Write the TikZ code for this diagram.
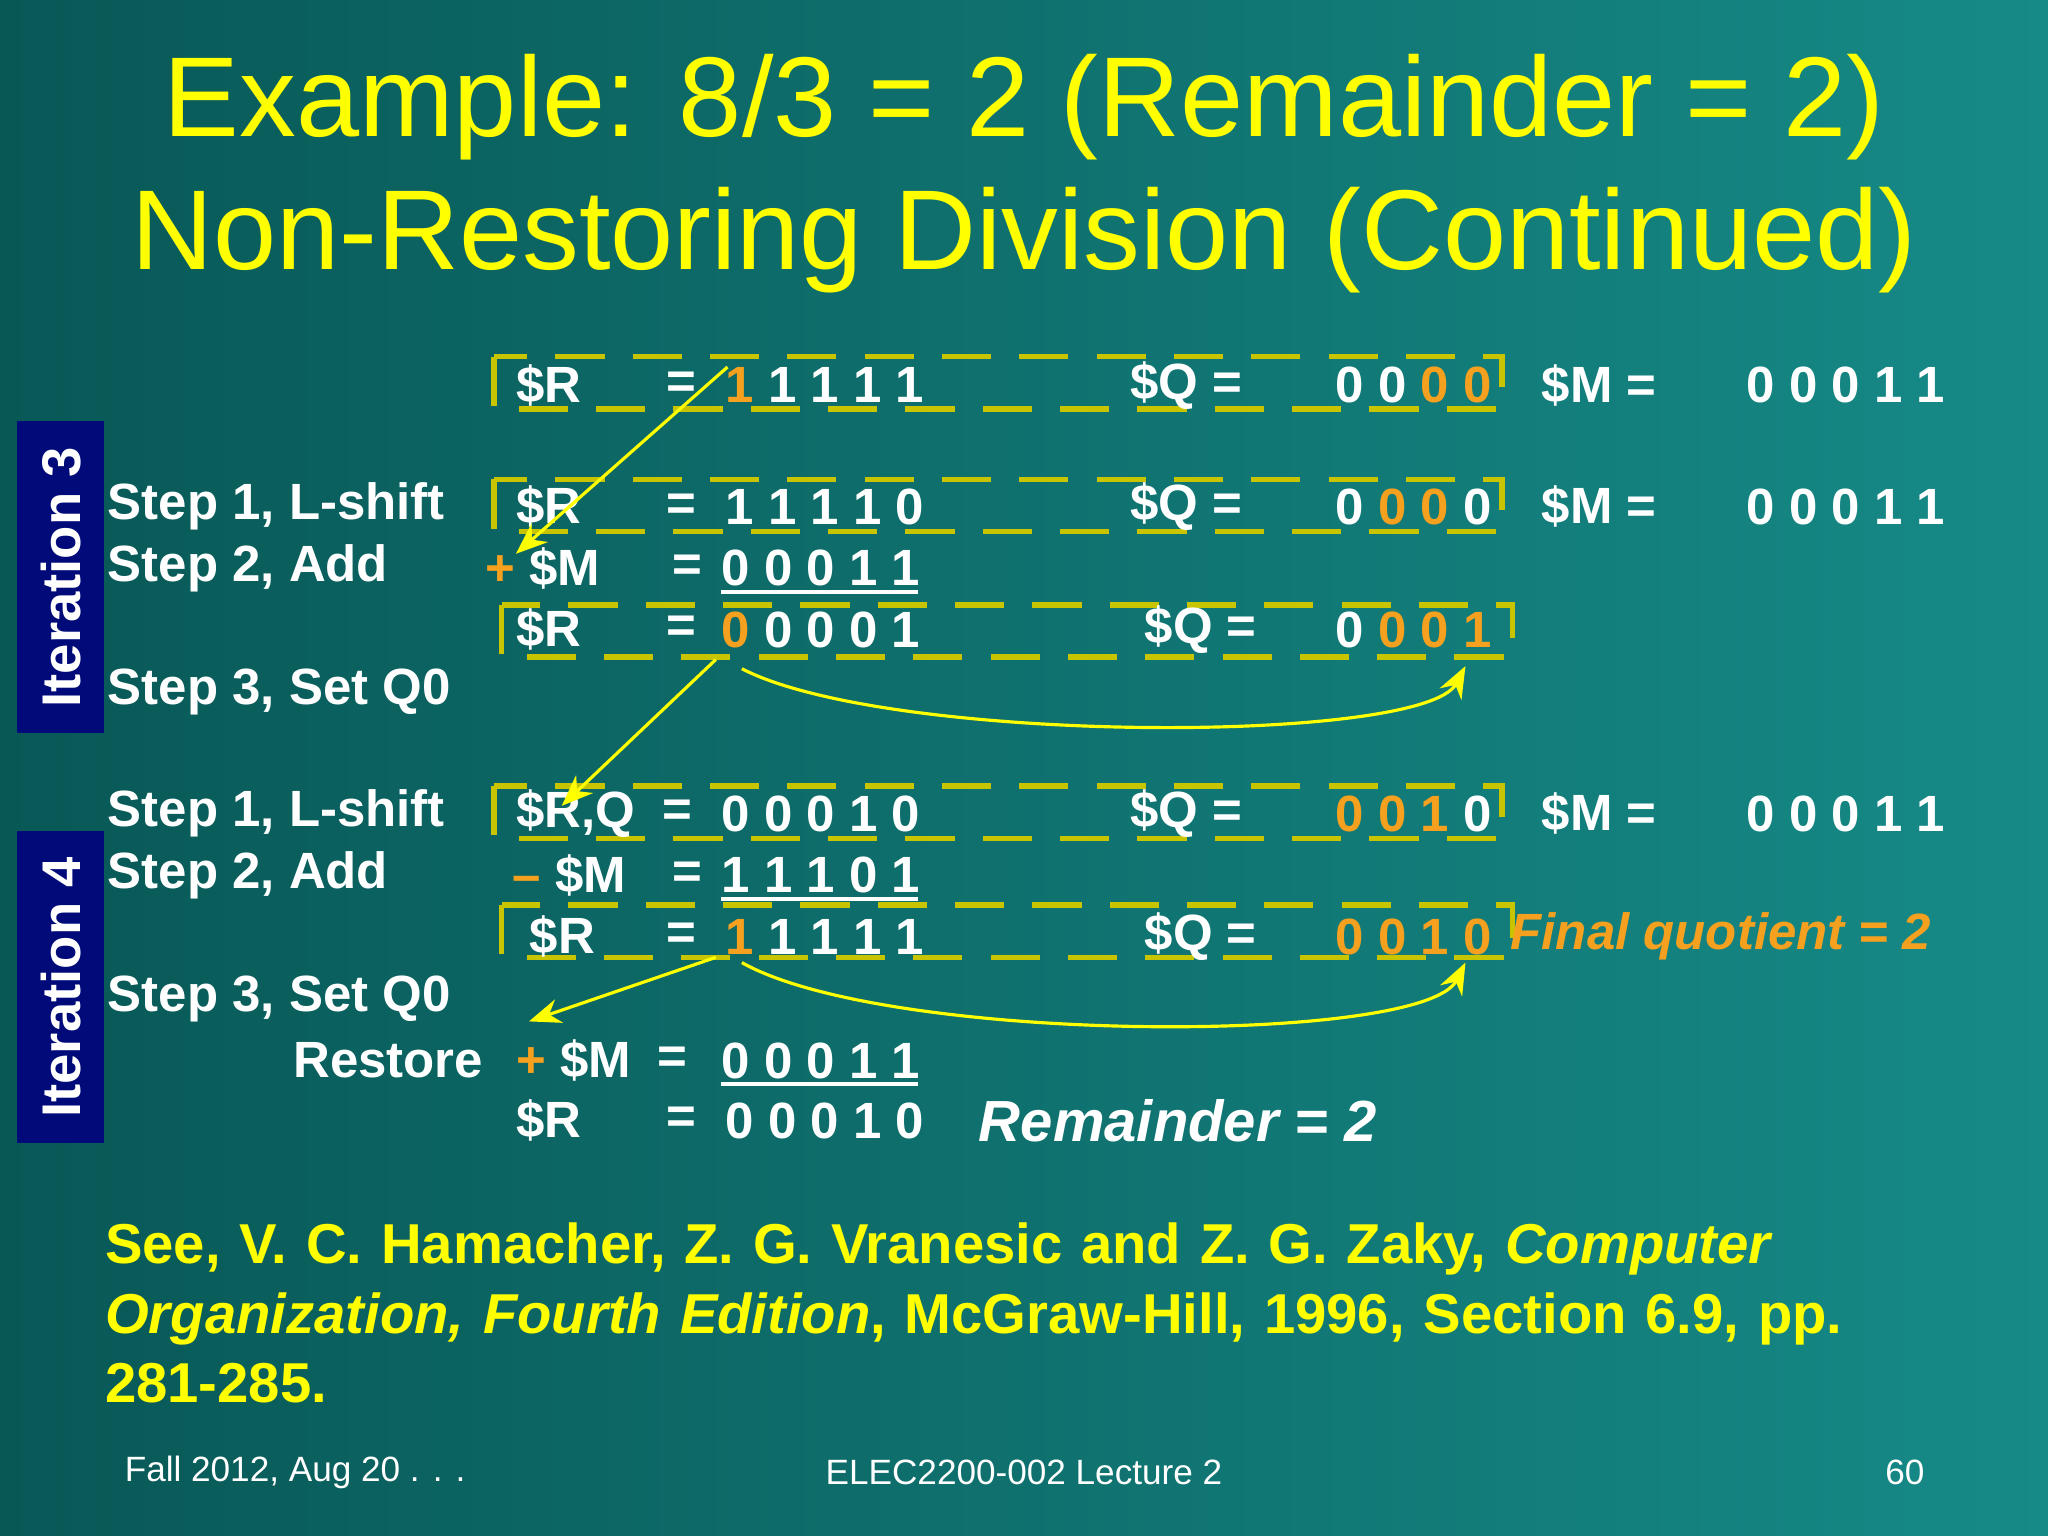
\documentclass[tikz,border=0pt]{standalone}
\usepackage{fontspec}
\setmainfont{Liberation Sans}
\usetikzlibrary{arrows.meta}
\definecolor{yel}{HTML}{FFFF00}
\definecolor{org}{HTML}{F5A01E}
\definecolor{olv}{HTML}{C8C400}
\definecolor{itb}{HTML}{000A78}
\newcommand{\og}[1]{\textcolor{org}{#1}}
\tikzset{
 t/.style={anchor=west,inner sep=0pt,text=white,font=\fontsize{14.5}{16}\selectfont\bfseries},
 bx/.style={draw=olv,dashed,line width=1.6pt,dash pattern=on 14pt off 8pt},
 arr/.style={draw=yel,line width=0.9pt,-{Stealth[length=9pt,width=7pt]}},
 ul/.style={draw=white,line width=1.2pt},
 itl/.style={fill=itb,draw=none,minimum width=0.87cm,inner sep=0pt},
}
\begin{document}
\begin{tikzpicture}[x=0.013061cm,y=-0.013061cm]
\shade[left color={rgb,255:red,8;green,88;blue,86},right color={rgb,255:red,22;green,138;blue,135}] (0,0) rectangle (1568,1176);
\useasboundingbox (0,0) rectangle (1568,1176);
% title
\node[text=yel,font=\fontsize{32.3}{36}\selectfont] (t1) at (784,82) {Example: 8/3 = 2 (Remainder = 2)};
\node[text=yel,font=\fontsize{32.3}{36}\selectfont] (t2) at (784,184) {Non-Restoring Division (Continued)};
% boxes
\draw[bx] (378,273) rectangle (1150,313);
\draw[bx] (378,367) rectangle (1150,407);
\draw[bx] (384,463) rectangle (1158,503);
\draw[bx] (378,602) rectangle (1150,642);
\draw[bx] (384,693) rectangle (1158,733);
% iteration labels
\node[itl,minimum height=3.12cm] (i3) at (46.5,442) {};
\node[rotate=90,text=white,font=\fontsize{15.5}{17}\selectfont\bfseries] (i3t) at (i3) {Iteration 3};
\node[itl,minimum height=3.12cm] (i4) at (46.5,756) {};
\node[rotate=90,text=white,font=\fontsize{15.5}{17}\selectfont\bfseries] (i4t) at (i4) {Iteration 4};
% step labels
\node[t] (s1) at (82,388) {Step 1, L-shift};
\node[t] (s2) at (82,435) {Step 2, Add};
\node[t] (s3) at (82,530) {Step 3, Set Q0};
\node[t] (s4) at (82,623) {Step 1, L-shift};
\node[t] (s5) at (82,670) {Step 2, Add};
\node[t] (s6) at (82,765) {Step 3, Set Q0};
\node[t] (s7) at (224,812) {Restore};
% row 1
\node[t] (r1a) at (395,295) {\$R};
\node[t] (r1b) at (510,295) {=};
\node[t] (r1c) at (555,295) {\og{1} 1 1 1 1};
\node[t] (r1d) at (865,295) {\$Q =};
\node[t] (r1e) at (1022,295) {0 0 \og{0 0}};
\node[t] (r1f) at (1180,295) {\$M =};
\node[t] (r1g) at (1337,295) {0 0 0 1 1};
% row 2
\node[t] (r2a) at (395,388) {\$R};
\node[t] (r2b) at (510,388) {=};
\node[t] (r2c) at (555,388) {1 1 1 1 0};
\node[t] (r2d) at (865,388) {\$Q =};
\node[t] (r2e) at (1022,388) {0 \og{0 0} 0};
\node[t] (r2f) at (1180,388) {\$M =};
\node[t] (r2g) at (1337,388) {0 0 0 1 1};
% row 3
\node[t] (r3a) at (371,435) {\og{+} \$M};
\node[t] (r3b) at (514,435) {=};
\node[t] (r3c) at (552,435) {0 0 0 1 1};
\draw[ul] (552,453) -- (703,453);
% row 4
\node[t] (r4a) at (395,482) {\$R};
\node[t] (r4b) at (510,482) {=};
\node[t] (r4c) at (552,482) {\og{0} 0 0 0 1};
\node[t] (r4d) at (876,482) {\$Q =};
\node[t] (r4e) at (1022,482) {0 \og{0 0 1}};
% row 5
\node[t] (r5a) at (395,623) {\$R,Q};
\node[t] (r5b) at (507,623) {=};
\node[t] (r5c) at (552,623) {0 0 0 1 0};
\node[t] (r5d) at (865,623) {\$Q =};
\node[t] (r5e) at (1022,623) {\og{0 0 1} 0};
\node[t] (r5f) at (1180,623) {\$M =};
\node[t] (r5g) at (1337,623) {0 0 0 1 1};
% row 6
\node[t] (r6a) at (392,670) {\og{–} \$M};
\node[t] (r6b) at (514,670) {=};
\node[t] (r6c) at (552,670) {1 1 1 0 1};
\draw[ul] (552,688) -- (703,688);
% row 7
\node[t] (r7a) at (405,717) {\$R};
\node[t] (r7b) at (510,717) {=};
\node[t] (r7c) at (555,717) {\og{1} 1 1 1 1};
\node[t] (r7d) at (876,717) {\$Q =};
\node[t] (r7e) at (1022,717) {\og{0 0 1 0}};
\node[t,text=org] (r7f) at (1156,717) {\itshape Final quotient = 2};
% row 8
\node[t] (r8a) at (395,812) {\og{+} \$M};
\node[t] (r8b) at (503,812) {=};
\node[t] (r8c) at (552,812) {0 0 0 1 1};
\draw[ul] (552,830) -- (703,830);
% row 9
\node[t] (r9a) at (395,858) {\$R};
\node[t] (r9b) at (510,858) {=};
\node[t] (r9c) at (555,858) {0 0 0 1 0};
\node[t,font=\fontsize{16.5}{18}\selectfont\bfseries\itshape] (r9d) at (749,858) {Remainder = 2};
% arrows
\coordinate (a1s) at (557,281); \coordinate (a1e) at (395,424);
\draw[arr] (a1s) -- (a1e);
\coordinate (a2s) at (548,505); \coordinate (a2e) at (430,617);
\draw[arr] (a2s) -- (a2e);
\coordinate (c1s) at (568,512); \coordinate (c1e) at (1122,510);
\draw[arr] (c1s) .. controls (680,570) and (1090,570) .. (c1e);
\coordinate (c2s) at (568,737); \coordinate (c2e) at (1122,737);
\draw[arr] (c2s) .. controls (680,800) and (1090,800) .. (c2e);
\coordinate (a3s) at (548,733); \coordinate (a3e) at (405,782);
\draw[arr] (a3s) -- (a3e);
% citation
\node[anchor=north west,text=yel,align=left,inner sep=0pt,font=\fontsize{16}{19.7}\selectfont\bfseries,text width=17.8cm] (cit) at (80,936) {See, V. C. Hamacher, Z. G. Vranesic and Z. G. Zaky, \textit{Computer Organization, Fourth Edition}, McGraw-Hill, 1996, Section 6.9, pp. 281-285.};
% footer
\node[anchor=west,text=white,inner sep=0pt,font=\fontsize{10}{12}\selectfont] (f1) at (95,1127) {Fall 2012, Aug 20 . . .};
\node[text=white,font=\fontsize{10}{12}\selectfont] (f2) at (784,1127) {ELEC2200-002 Lecture 2};
\node[anchor=east,text=white,inner sep=0pt,font=\fontsize{10}{12}\selectfont] (f3) at (1474,1127) {60};
\end{tikzpicture}
\end{document}
